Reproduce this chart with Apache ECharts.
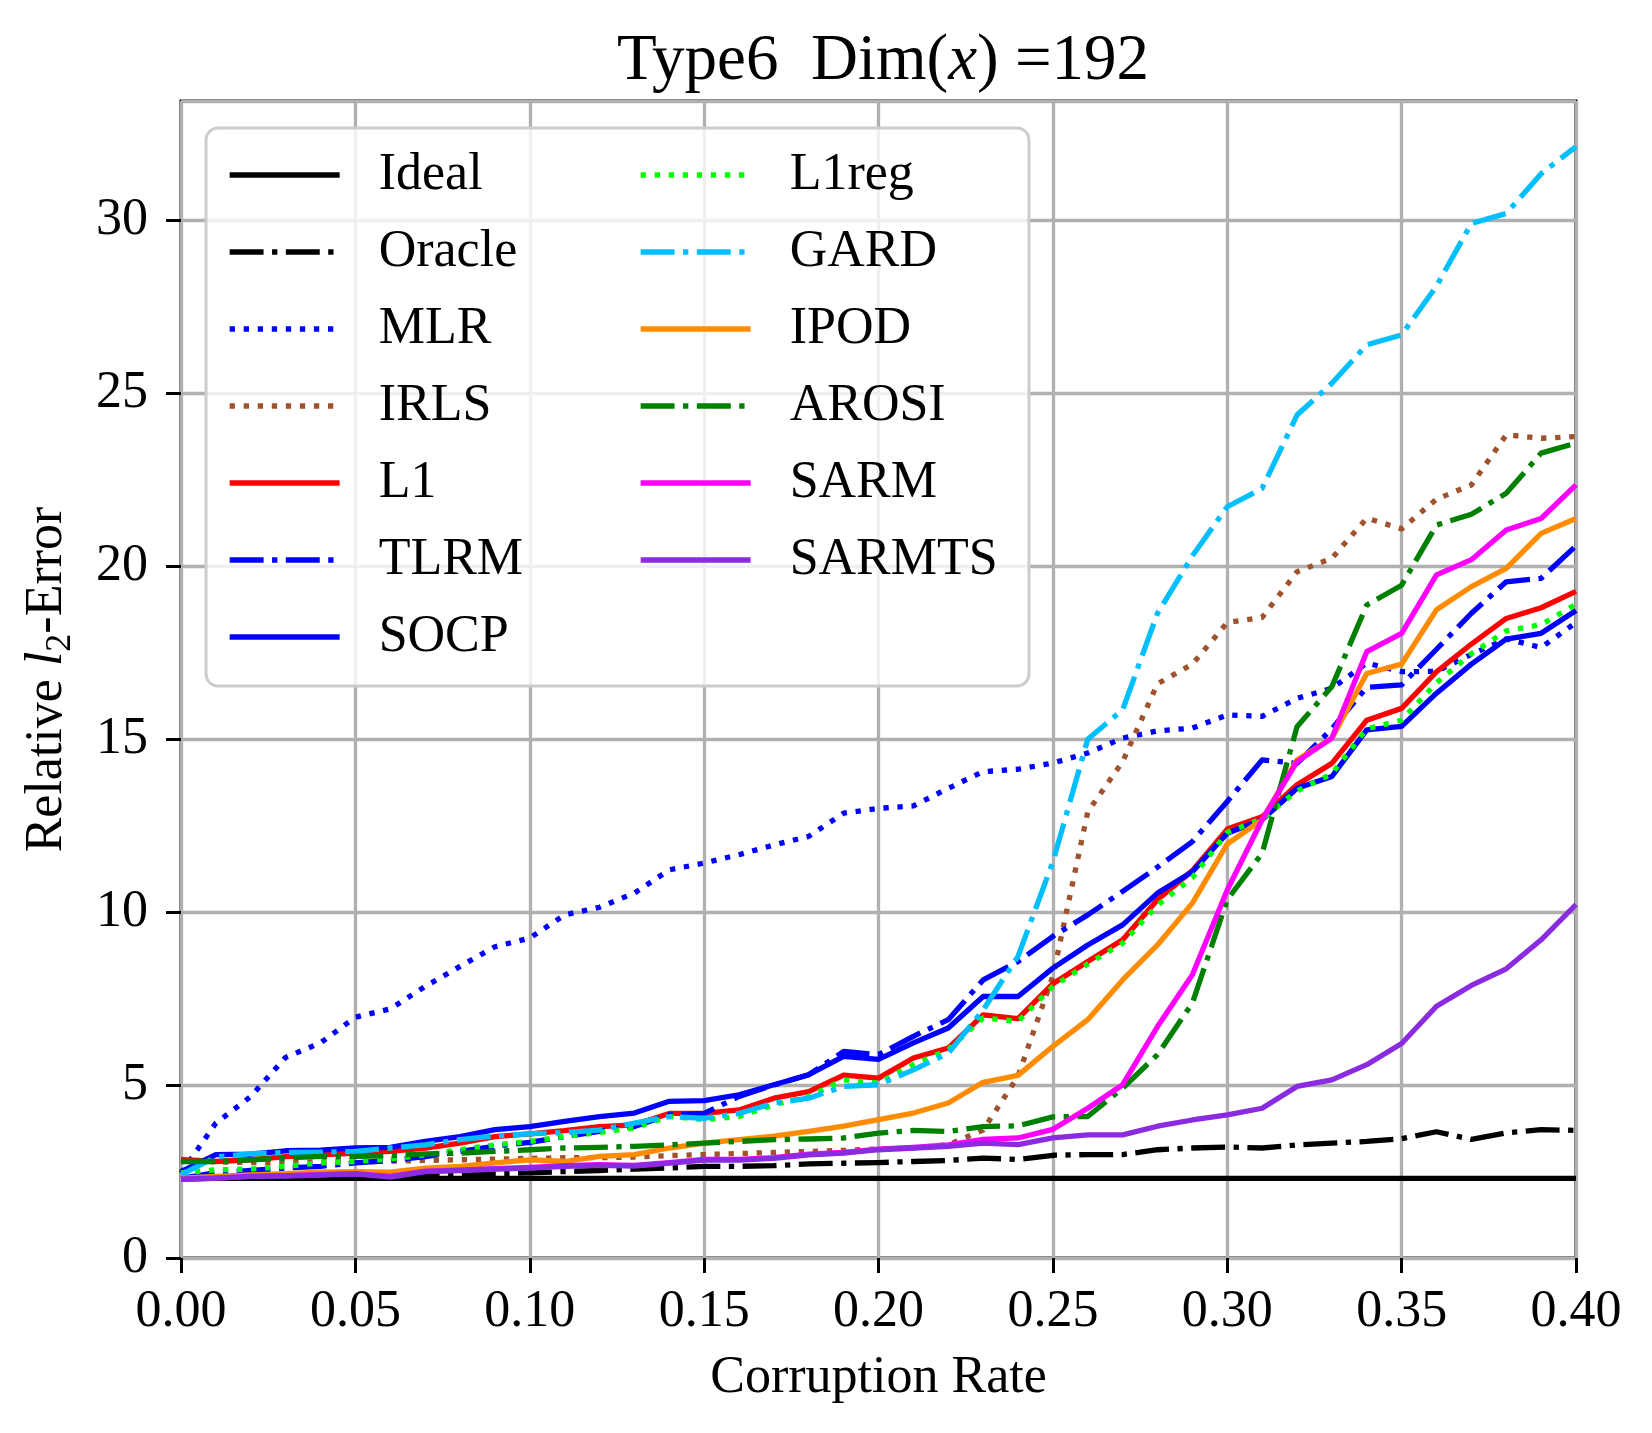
<!DOCTYPE html>
<html>
<head>
<meta charset="utf-8">
<script src="https://cdn.jsdelivr.net/npm/echarts@6/dist/echarts.min.js"></script>
<style>
html,body{margin:0;padding:0;background:#ffffff;}
#chart{width:1652px;height:1433px;}
</style>
</head>
<body>
<div id="chart"></div>
<script>
// ---------------- data ----------------
const rates = [0.00,0.01,0.02,0.03,0.04,0.05,0.06,0.07,0.08,0.09,0.10,0.11,0.12,0.13,0.14,0.15,0.16,0.17,0.18,0.19,0.20,
               0.21,0.22,0.23,0.24,0.25,0.26,0.27,0.28,0.29,0.30,0.31,0.32,0.33,0.34,0.35,0.36,0.37,0.38,0.39,0.40];

const ideal  = [2.3,2.3,2.3,2.3,2.3,2.3,2.3,2.3,2.3,2.3,2.3,2.3,2.3,2.3,2.3,2.3,2.3,2.3,2.3,2.3,2.3,
                2.3,2.3,2.3,2.3,2.3,2.3,2.3,2.3,2.3,2.3,2.3,2.3,2.3,2.3,2.3,2.3,2.3,2.3,2.3,2.3];
const oracle = [2.28,2.30,2.32,2.33,2.35,2.36,2.38,2.40,2.42,2.44,2.46,2.50,2.53,2.57,2.60,2.65,2.65,2.67,2.72,2.74,2.76,
                2.79,2.82,2.89,2.85,2.97,2.99,2.99,3.13,3.18,3.21,3.18,3.27,3.32,3.37,3.45,3.65,3.43,3.62,3.71,3.69];
const mlr    = [2.45,3.90,4.67,5.80,6.22,6.96,7.20,7.85,8.43,9.00,9.25,9.92,10.14,10.55,11.22,11.42,11.66,11.94,12.19,12.86,13.00,
                13.07,13.58,14.06,14.13,14.31,14.60,15.03,15.24,15.32,15.70,15.66,16.18,16.47,17.20,16.95,16.96,17.45,17.90,17.65,18.37];
const irls   = [2.85,2.78,2.76,2.76,2.78,2.80,2.80,2.82,2.84,2.86,2.88,2.90,2.90,2.92,2.96,2.99,3.02,3.05,3.08,3.11,3.15,
                3.18,3.27,3.70,5.25,8.15,12.90,14.35,16.60,17.17,18.37,18.52,19.84,20.23,21.39,21.08,21.94,22.35,23.80,23.70,23.75];
const l1     = [2.84,2.79,2.84,2.93,2.98,3.03,3.08,3.18,3.32,3.51,3.59,3.68,3.80,3.85,4.18,4.18,4.28,4.62,4.81,5.29,5.20,
                5.78,6.07,7.03,6.92,7.93,8.57,9.20,10.36,11.20,12.40,12.76,13.68,14.30,15.55,15.89,16.95,17.75,18.49,18.80,19.27];
const tlrm   = [2.30,2.47,2.53,2.60,2.65,2.75,2.82,2.93,3.08,3.23,3.34,3.51,3.66,3.80,4.14,4.18,4.67,5.00,5.30,5.97,5.88,
                6.41,6.89,8.04,8.57,9.30,9.92,10.60,11.30,12.04,13.20,14.40,14.30,15.30,16.50,16.57,17.60,18.64,19.55,19.65,20.59];
const socp   = [2.50,2.99,3.00,3.10,3.12,3.18,3.20,3.37,3.51,3.71,3.80,3.95,4.09,4.19,4.53,4.55,4.72,5.01,5.30,5.83,5.74,
                6.22,6.65,7.56,7.56,8.38,9.05,9.63,10.55,11.17,12.28,12.67,13.58,13.92,15.27,15.37,16.33,17.17,17.89,18.06,18.72];
const l1reg  = [2.46,2.55,2.57,2.65,2.75,2.79,2.86,2.98,3.13,3.27,3.37,3.51,3.63,3.76,4.09,4.00,4.09,4.43,4.67,5.15,5.06,
                5.59,6.02,6.94,6.84,7.85,8.50,9.10,10.20,11.00,12.30,12.70,13.50,14.00,15.30,15.55,16.63,17.47,18.13,18.31,18.90];
const gard   = [2.41,2.92,3.02,3.05,3.06,3.08,3.18,3.27,3.42,3.53,3.59,3.63,3.70,3.90,4.09,4.04,4.18,4.48,4.62,4.96,5.01,
                5.44,5.92,7.17,8.72,11.45,15.00,15.85,18.64,20.30,21.72,22.25,24.37,25.29,26.40,26.69,28.10,29.91,30.20,31.35,32.13];
const ipod   = [2.31,2.36,2.40,2.44,2.48,2.50,2.48,2.60,2.65,2.75,2.84,2.79,2.94,2.99,3.18,3.32,3.42,3.52,3.66,3.81,4.00,
                4.19,4.48,5.08,5.28,6.12,6.89,8.04,9.05,10.26,11.97,12.67,14.40,15.03,16.90,17.17,18.74,19.41,19.94,20.95,21.38];
const arosi  = [2.79,2.79,2.84,2.89,2.94,2.94,2.96,3.01,3.03,3.08,3.13,3.18,3.20,3.23,3.27,3.32,3.37,3.42,3.44,3.47,3.61,
                3.69,3.66,3.80,3.82,4.08,4.09,4.91,5.88,7.37,10.36,11.70,15.36,16.52,18.88,19.45,21.19,21.50,22.11,23.27,23.56];
const sarm   = [2.28,2.31,2.36,2.38,2.41,2.44,2.36,2.51,2.54,2.58,2.62,2.67,2.70,2.68,2.76,2.85,2.85,2.90,3.00,3.05,3.15,
                3.20,3.27,3.43,3.47,3.72,4.33,5.01,6.69,8.19,10.64,12.67,14.35,15.03,17.53,18.06,19.75,20.19,21.05,21.38,22.35];
const sarmts = [2.28,2.31,2.36,2.37,2.40,2.43,2.34,2.50,2.53,2.57,2.60,2.65,2.68,2.66,2.74,2.83,2.83,2.88,2.98,3.03,3.13,
                3.18,3.23,3.32,3.28,3.47,3.56,3.56,3.81,3.99,4.14,4.33,4.96,5.15,5.59,6.20,7.28,7.88,8.36,9.20,10.22];

const seriesNames = ['Ideal','Oracle','MLR','IRLS','L1','TLRM','SOCP','L1reg','GARD','IPOD','AROSI','SARM','SARMTS'];
const seriesValues = [ideal,oracle,mlr,irls,l1,tlrm,socp,l1reg,gard,ipod,arosi,sarm,sarmts];
const legendCol1 = ['Ideal','Oracle','MLR','IRLS','L1','TLRM','SOCP'];
const legendCol2 = ['L1reg','GARD','IPOD','AROSI','SARM','SARMTS'];

// ---------------- styles ----------------
const FONT = 'Liberation Serif';
const LW = 5.3;
const SOLID = 'solid';
const DOT = [LW * 1.0, LW * 1.65];
const DASHDOT = [LW * 6.4, LW * 1.6, LW * 1.0, LW * 1.6];
const styleMap = {
  Ideal:  {color: '#000000', dash: SOLID},
  Oracle: {color: '#000000', dash: DASHDOT},
  MLR:    {color: '#0000ff', dash: DOT},
  IRLS:   {color: '#a0522d', dash: DOT},
  L1:     {color: '#ff0000', dash: SOLID},
  TLRM:   {color: '#0000ff', dash: DASHDOT},
  SOCP:   {color: '#0000ff', dash: SOLID},
  L1reg:  {color: '#00ff00', dash: DOT},
  GARD:   {color: '#00bfff', dash: DASHDOT},
  IPOD:   {color: '#ff8c00', dash: SOLID},
  AROSI:  {color: '#008000', dash: DASHDOT},
  SARM:   {color: '#ff00ff', dash: SOLID},
  SARMTS: {color: '#8a2be2', dash: SOLID}
};

const series = seriesNames.map((name, k) => {
  const st = styleMap[name];
  return {
    name: name,
    type: 'line',
    data: rates.map((r, i) => [r, seriesValues[k][i]]),
    symbol: 'none',
    showSymbol: false,
    smooth: false,
    clip: true,
    z: 2,
    lineStyle: {color: st.color, width: LW, type: st.dash, cap: 'butt', join: 'round'},
    itemStyle: {color: st.color},
    emphasis: {disabled: true}
  };
});

const legendBase = {
  orient: 'vertical',
  top: 149,
  padding: 0,
  itemWidth: 110,
  itemHeight: 2,
  itemGap: 25,
  selectedMode: false,
  z: 5,
  itemStyle: {opacity: 0},
  lineStyle: {width: LW, cap: 'butt'},
  textStyle: {fontFamily: FONT, fontSize: 52, color: '#000000', lineHeight: 52, padding: [0, 0, 0, 34]}
};

const chart = echarts.init(document.getElementById('chart'), null, {renderer: 'canvas'});
chart.setOption({
  animation: false,
  backgroundColor: '#ffffff',
  title: {
    text: '{n|Type6  Dim(}{i|x}{n|) =192}',
    left: 878,
    textAlign: 'center',
    top: 22,
    textStyle: {
      fontWeight: 'normal',
      rich: {
        n: {fontFamily: FONT, fontSize: 65, fontWeight: 'normal', color: '#000000', lineHeight: 70},
        i: {fontFamily: FONT, fontSize: 65, fontWeight: 'normal', color: '#000000', fontStyle: 'italic', lineHeight: 70}
      }
    }
  },
  grid: {
    left: 181, right: 76, top: 101, bottom: 175,
    show: true, borderColor: '#000000', borderWidth: 3, backgroundColor: 'transparent'
  },
  xAxis: {
    type: 'value',
    min: 0, max: 0.4, interval: 0.05,
    axisLine: {show: false},
    axisTick: {show: true, inside: false, length: 15, lineStyle: {color: '#000000', width: 3}},
    axisLabel: {
      fontFamily: FONT, fontSize: 52, color: '#000000', margin: 28,
      formatter: v => Number(v).toFixed(2)
    },
    splitLine: {show: true, lineStyle: {color: '#b0b0b0', width: 3.3}},
    name: 'Corruption Rate',
    nameLocation: 'middle',
    nameGap: 94,
    nameTextStyle: {fontFamily: FONT, fontSize: 52, color: '#000000'}
  },
  yAxis: {
    type: 'value',
    min: 0, max: 33.45, interval: 5,
    axisLine: {show: false},
    axisTick: {show: true, inside: false, length: 15, lineStyle: {color: '#000000', width: 3}},
    axisLabel: {
      fontFamily: FONT, fontSize: 52, color: '#000000', margin: 33,
      showMaxLabel: false,
      formatter: v => (Math.abs(v / 5 - Math.round(v / 5)) < 1e-6 ? String(Math.round(v)) : '')
    },
    splitLine: {show: true, lineStyle: {color: '#b0b0b0', width: 3.3}},
    name: '{a|Relative }{i|l}{s|2}{a|-Error}',
    nameLocation: 'middle',
    nameGap: 102,
    nameRotate: 90,
    nameTextStyle: {
      rich: {
        a: {fontFamily: FONT, fontSize: 52, color: '#000000', lineHeight: 64},
        i: {fontFamily: FONT, fontSize: 52, color: '#000000', fontStyle: 'italic', lineHeight: 64},
        s: {fontFamily: FONT, fontSize: 36, color: '#000000', lineHeight: 36, verticalAlign: 'bottom'}
      }
    }
  },
  legend: [
    Object.assign({}, legendBase, {left: 227, data: legendCol1}),
    Object.assign({}, legendBase, {left: 638, data: legendCol2})
  ],
  graphic: [{
    type: 'rect',
    z: 3,
    silent: true,
    shape: {x: 206, y: 128, width: 823, height: 558, r: 12},
    style: {fill: 'rgba(255,255,255,0.8)', stroke: '#cccccc', lineWidth: 3}
  }],
  series: series
});
</script>
</body>
</html>
